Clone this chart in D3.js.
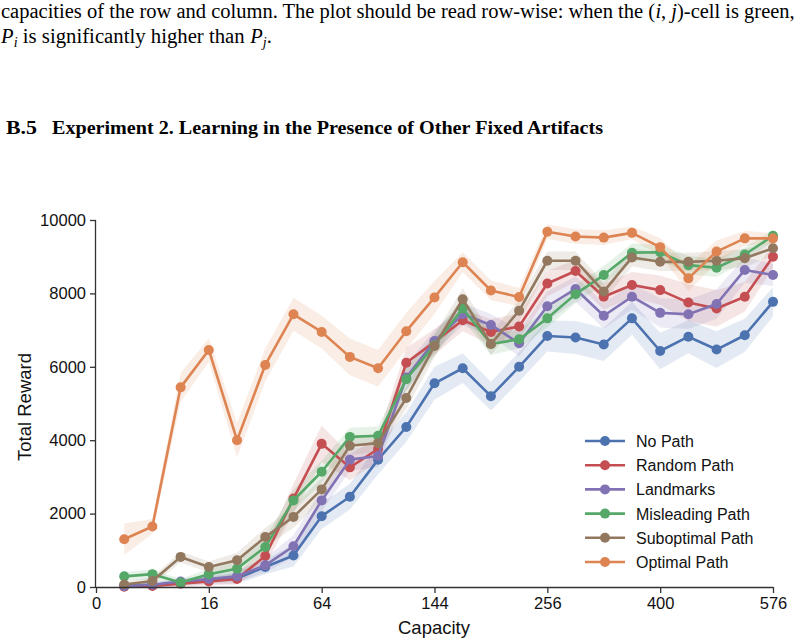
<!DOCTYPE html>
<html><head><meta charset="utf-8">
<script src="https://cdn.jsdelivr.net/npm/d3@7/dist/d3.min.js"></script>
<style>
body{margin:0;background:#fff;}
svg{display:block;}
</style></head>
<body>
<svg id="chart" width="803" height="643"></svg>
<script>
const capacities = [1,4,9,16,25,36,49,64,81,100,121,144,169,196,225,256,289,324,361,400,441,484,529,576];
const xTicks = [0,16,64,144,256,400,576];
const yTicks = [0,2000,4000,6000,8000,10000];
const seriesNames = ["No Path","Random Path","Landmarks","Misleading Path","Suboptimal Path","Optimal Path"];
const seriesColors = ["#4C72B0","#C44E52","#8172B3","#55A868","#937860","#DD8452"];

const noPath     = [40,60,110,190,240,545,860,1930,2460,3470,4360,5550,5960,5200,6000,6840,6800,6610,7320,6430,6820,6470,6860,7770];
const randomPath = [10,30,90,150,220,845,2410,3900,3260,3760,6110,6680,7270,6950,7100,8270,8610,7910,8230,8090,7750,7590,7910,9000];
const landmarks  = [20,60,150,220,290,590,1110,2360,3470,3570,5710,6700,7430,7140,6640,7650,8120,7390,7910,7470,7430,7710,8640,8500];
const misleading = [290,350,120,350,500,1090,2360,3140,4090,4120,5660,6590,7590,6620,6750,7320,7980,8500,9110,9120,8770,8700,9060,9570];
const suboptimal = [70,165,820,545,730,1360,1910,2660,3850,3920,5150,6570,7840,6620,7530,8890,8890,8050,8980,8860,8860,8890,8960,9230];
const optimal    = [1300,1650,5440,6460,4000,6050,7430,6950,6270,5960,6970,7890,8850,8080,7900,9680,9550,9520,9650,9260,8410,9140,9500,9500];

// 95% CI half-widths (estimated from the shaded bands)
const noPathCI     = [60,80,80,100,150,200,300,350,350,400,400,450,400,390,400,420,450,450,450,500,450,500,450,400];
const randomPathCI = [50,60,80,100,150,250,400,500,350,350,400,350,300,350,350,350,300,350,350,400,500,500,400,300];
const landmarksCI  = [50,60,80,100,150,200,300,300,300,300,350,300,300,300,350,400,350,350,350,400,400,400,350,300];
const misleadingCI = [120,130,100,150,200,250,300,300,250,250,300,300,300,300,250,250,250,250,250,200,250,250,200,150];
const suboptimalCI = [80,100,150,150,200,250,300,300,250,250,300,300,300,300,300,250,250,250,250,250,250,250,250,200];
const optimalCI    = [430,200,400,320,470,450,450,450,500,500,500,450,270,270,250,200,200,200,170,250,350,300,200,150];

const seriesValues = [noPath,randomPath,landmarks,misleading,suboptimal,optimal];
const seriesCI = [noPathCI,randomPathCI,landmarksCI,misleadingCI,suboptimalCI,optimalCI];

const svg = d3.select("#chart");
const serif = "'Liberation Serif','Times New Roman',Times,serif";
const sans = "'Liberation Sans',Arial,Helvetica,sans-serif";

// page text laid out as separate segments, scaled to a target width
function textRow(segs, x0, yBase, fontSize, targetWidth){
  const nodes = segs.map(s=>{
    const t = svg.append("text").attr("y",yBase+(s.dy||0)).attr("font-family",serif)
      .attr("font-size",s.size||fontSize).attr("fill","#000").style("white-space","pre")
      .attr("xml:space","preserve").text(s.t);
    if(s.it) t.attr("font-style","italic");
    return t;
  });
  const widths = nodes.map(n=>n.node().getComputedTextLength());
  const total = d3.sum(widths);
  const k = targetWidth/total;
  let cx = x0;
  nodes.forEach((n,i)=>{
    const w = widths[i]*k;
    const lead = (segs[i].t.match(/^ */)[0].length);
    n.attr("x",cx);
    if(segs[i].t.trim().length>1) n.attr("textLength",w-0.3).attr("lengthAdjust","spacingAndGlyphs");
    cx += w;
  });
}
textRow([
  {t:"capacities of the row and column. The plot should be read row-wise: when the ("},
  {t:"i",it:true},{t:", "},{t:"j",it:true},{t:")-cell is green,"}
],1,18,20.5,794);
textRow([
  {t:"P",it:true},{t:"i",it:true,size:14,dy:4},{t:" is significantly higher than "},
  {t:"P",it:true},{t:"j",it:true,size:14,dy:4},{t:"."}
],1,43,20.5,271);

svg.append("text").attr("x",6).attr("y",134).attr("font-family",serif).attr("font-size",19.5)
  .attr("font-weight","bold").attr("textLength",31).attr("lengthAdjust","spacingAndGlyphs").text("B.5");
svg.append("text").attr("x",52).attr("y",134).attr("font-family",serif).attr("font-size",19.5)
  .attr("font-weight","bold").attr("textLength",551).attr("lengthAdjust","spacingAndGlyphs")
  .text("Experiment 2. Learning in the Presence of Other Fixed Artifacts");

// scales
const x = d3.scaleSqrt().domain([0,576]).range([96,773]);
const y = d3.scaleLinear().domain([0,10000]).range([587,220]);

// bands
seriesValues.forEach((vals,si)=>{
  const ci = seriesCI[si];
  const area = d3.area().x((d,i)=>x(capacities[i])).y0((d,i)=>y(vals[i]-ci[i])).y1((d,i)=>y(vals[i]+ci[i]));
  svg.append("path").datum(vals).attr("d",area).attr("fill",seriesColors[si]).attr("fill-opacity",0.15).attr("stroke","none");
});

// lines & markers
seriesValues.forEach((vals,si)=>{
  const line = d3.line().x((d,i)=>x(capacities[i])).y(d=>y(d));
  const g = svg.append("g");
  g.append("path").datum(vals).attr("d",line).attr("fill","none").attr("stroke",seriesColors[si]).attr("stroke-width",2.6).attr("stroke-linejoin","round");
  g.selectAll("circle").data(vals).join("circle")
    .attr("cx",(d,i)=>x(capacities[i])).attr("cy",d=>y(d)).attr("r",5).attr("fill",seriesColors[si]);
});

// axes
const axisColor = "#333";
const xAxis = svg.append("g").attr("transform","translate(0,587)")
  .call(d3.axisBottom(x).tickValues(xTicks).tickSize(6).tickPadding(4).tickFormat(d3.format("d")));
const yAxis = svg.append("g").attr("transform","translate(96,0)")
  .call(d3.axisLeft(y).tickValues(yTicks).tickSize(6).tickPadding(4).tickFormat(d3.format("d")));
[xAxis,yAxis].forEach(a=>{
  a.select(".domain").attr("stroke",axisColor).attr("stroke-width",1.3);
  a.selectAll(".tick line").attr("stroke",axisColor).attr("stroke-width",1.3);
  a.selectAll(".tick text").attr("font-family",sans).attr("font-size",16.5).attr("fill","#111");
});
xAxis.select(".domain").attr("d","M96,0.5H773");
yAxis.select(".domain").attr("d","M-0.5,220V587");

svg.append("text").attr("x",434).attr("y",634).attr("text-anchor","middle")
  .attr("font-family",sans).attr("font-size",18.5).attr("fill","#111").text("Capacity");
svg.append("text").attr("transform","translate(31,407) rotate(-90)").attr("text-anchor","middle")
  .attr("font-family",sans).attr("font-size",18.5).attr("fill","#111").text("Total Reward");

// legend
const leg = svg.append("g").attr("transform","translate(585,441)");
seriesNames.forEach((n,i)=>{
  const gy = i*24.2;
  leg.append("line").attr("x1",0).attr("x2",40).attr("y1",gy).attr("y2",gy).attr("stroke",seriesColors[i]).attr("stroke-width",2.6);
  leg.append("circle").attr("cx",20).attr("cy",gy).attr("r",5).attr("fill",seriesColors[i]);
  leg.append("text").attr("x",51).attr("y",gy+6).attr("font-family",sans).attr("font-size",16).attr("fill","#111").text(n);
});
</script>
</body></html>
